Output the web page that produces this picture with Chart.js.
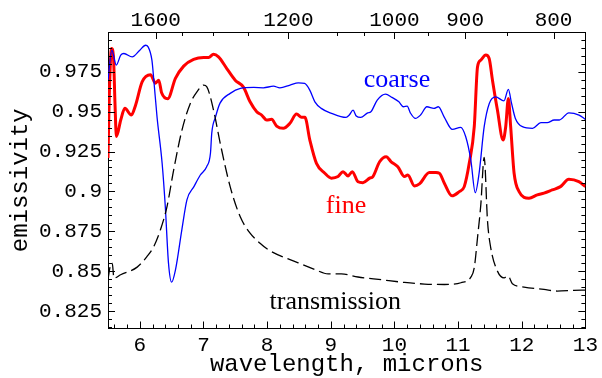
<!DOCTYPE html>
<html>
<head>
<meta charset="utf-8">
<script src="https://cdn.jsdelivr.net/npm/chart.js@4.4.0/dist/chart.umd.min.js"></script>
<style>
  html, body { margin: 0; padding: 0; background: #fff; }
  #wrap { width: 602px; height: 378px; position: relative; }
</style>
</head>
<body>
<div id="wrap"><canvas id="grafico"></canvas></div>
<script>
// curva "coarse" (azul): longitud de onda en micrones y emisividad
const coarseWl = [5.50, 5.56, 5.63, 5.70, 5.75, 5.88, 6.00, 6.09, 6.13, 6.19, 6.22, 6.27, 6.35, 6.40, 6.45, 6.50, 6.56, 6.66, 6.74, 6.85, 6.95, 7.05, 7.11, 7.13, 7.19, 7.26, 7.42, 7.58, 7.79, 7.94, 8.10, 8.20, 8.36, 8.49, 8.59, 8.67, 8.75, 8.85, 9.01, 9.24, 9.29, 9.35, 9.40, 9.47, 9.58, 9.63, 9.73, 9.86, 9.96, 10.07, 10.14, 10.20, 10.25, 10.33, 10.41, 10.51, 10.62, 10.69, 10.78, 10.91, 11.04, 11.12, 11.20, 11.27, 11.33, 11.41, 11.49, 11.59, 11.72, 11.79, 11.84, 11.90, 12.01, 12.17, 12.30, 12.40, 12.51, 12.59, 12.74, 12.90, 13.00];
const coarseEm = [0.970, 0.9886, 0.9792, 0.9855, 0.9865, 0.9844, 0.9886, 0.9917, 0.9907, 0.9823, 0.9698, 0.9468, 0.9178, 0.8905, 0.8552, 0.8431, 0.8508, 0.8759, 0.8947, 0.9030, 0.9103, 0.9155, 0.9241, 0.9366, 0.9468, 0.9554, 0.9615, 0.9646, 0.9652, 0.9650, 0.9660, 0.9650, 0.9667, 0.9681, 0.9677, 0.9635, 0.9562, 0.9521, 0.9490, 0.9464, 0.9479, 0.9510, 0.9473, 0.9464, 0.9493, 0.9500, 0.9573, 0.9610, 0.9590, 0.9562, 0.9531, 0.9535, 0.9493, 0.9458, 0.9479, 0.9531, 0.9521, 0.9531, 0.9468, 0.9389, 0.9402, 0.9343, 0.9197, 0.8992, 0.9114, 0.9406, 0.9552, 0.9593, 0.9568, 0.9640, 0.9552, 0.9458, 0.9406, 0.9396, 0.9431, 0.9431, 0.9448, 0.9448, 0.9493, 0.9479, 0.9452];

// curva "fine" (roja)
const fineWl = [5.50, 5.52, 5.555, 5.585, 5.61, 5.632, 5.70, 5.765, 5.867, 5.933, 6.036, 6.167, 6.246, 6.297, 6.344, 6.438, 6.559, 6.689, 6.845, 7.002, 7.080, 7.158, 7.236, 7.366, 7.498, 7.628, 7.732, 7.836, 7.914, 7.992, 8.070, 8.149, 8.254, 8.358, 8.462, 8.540, 8.593, 8.671, 8.775, 8.906, 9.009, 9.114, 9.192, 9.271, 9.338, 9.427, 9.505, 9.610, 9.662, 9.767, 9.870, 9.948, 10.053, 10.158, 10.210, 10.315, 10.393, 10.549, 10.653, 10.706, 10.784, 10.903, 11.019, 11.097, 11.175, 11.254, 11.305, 11.357, 11.435, 11.488, 11.540, 11.618, 11.707, 11.748, 11.790, 11.826, 11.880, 11.958, 12.114, 12.244, 12.349, 12.479, 12.609, 12.740, 12.897, 13.00];
const fineEm = [0.921, 0.960, 0.9897, 0.985, 0.955, 0.9344, 0.9448, 0.9521, 0.9479, 0.9541, 0.9687, 0.9732, 0.9679, 0.9698, 0.9617, 0.9581, 0.9709, 0.9786, 0.9828, 0.9840, 0.9840, 0.9861, 0.9844, 0.9771, 0.9698, 0.9654, 0.9562, 0.9500, 0.9479, 0.9448, 0.9452, 0.9410, 0.9396, 0.9427, 0.9485, 0.9465, 0.9465, 0.9322, 0.9176, 0.9114, 0.9083, 0.9093, 0.9124, 0.9097, 0.9124, 0.9061, 0.9055, 0.9083, 0.9093, 0.9186, 0.9218, 0.9186, 0.9155, 0.9093, 0.9103, 0.9034, 0.9047, 0.9118, 0.9118, 0.9114, 0.9051, 0.8972, 0.8999, 0.9030, 0.9176, 0.9406, 0.9781, 0.9823, 0.9855, 0.9834, 0.9698, 0.9510, 0.9322, 0.9406, 0.9583, 0.9406, 0.9114, 0.8999, 0.8957, 0.8978, 0.8989, 0.9009, 0.9030, 0.9076, 0.9061, 0.9030];

// curva "transmission" (negra, punteada)
const transWl = [5.50, 5.541, 5.567, 5.593, 5.698, 5.958, 6.114, 6.219, 6.324, 6.427, 6.532, 6.662, 6.793, 6.897, 7.002, 7.053, 7.158, 7.263, 7.419, 7.576, 7.732, 7.889, 8.019, 8.488, 8.750, 8.958, 9.166, 9.427, 9.792, 10.158, 10.471, 10.784, 11.044, 11.200, 11.254, 11.305, 11.357, 11.410, 11.462, 11.513, 11.618, 11.723, 11.786, 11.853, 12.036, 12.349, 12.557, 12.818, 13.00];
const transEm = [0.845, 0.8540, 0.8550, 0.8456, 0.8477, 0.8525, 0.8592, 0.8654, 0.8759, 0.8905, 0.9135, 0.9385, 0.9552, 0.9625, 0.9667, 0.9656, 0.9510, 0.9302, 0.9030, 0.8842, 0.8738, 0.8675, 0.8634, 0.8552, 0.8510, 0.8483, 0.8483, 0.8463, 0.8446, 0.8429, 0.8419, 0.8416, 0.8427, 0.8462, 0.8521, 0.8709, 0.8917, 0.9214, 0.8815, 0.8646, 0.8500, 0.8458, 0.8469, 0.8421, 0.8400, 0.8385, 0.8375, 0.8379, 0.8381];

// marcas de los ejes
const xTicks = [6, 7, 8, 9, 10, 11, 12, 13];
const yTicks = [0.825, 0.85, 0.875, 0.9, 0.925, 0.95, 0.975];
const topMajor = [1600, 1200, 1000, 900, 800];   // numero de onda, cm^-1
const topMinor = [1500, 1400, 1300, 1100, 1050, 950, 850];

const puntos = (xs, ys) => xs.map((x, i) => ({ x: x, y: ys[i] }));

// etiquetas dentro del grafico
const etiquetas = [
  { texto: 'coarse', x: 10.04, y: 0.9657, color: '#0000ff' },
  { texto: 'fine', x: 9.24, y: 0.8865, color: '#ff0000' },
  { texto: 'transmission', x: 9.07, y: 0.826, color: '#000000' },
];

const fuenteTicks = { family: "'Liberation Mono', 'Courier New', monospace", size: 21 };
const fuenteTitulo = { family: "'Liberation Mono', 'Courier New', monospace", size: 24 };

// dibuja las marcas hacia adentro del marco y los textos
const marcas = {
  id: 'marcas',
  afterDraw(chart) {
    const { ctx, chartArea: a, scales } = chart;
    ctx.save();
    ctx.strokeStyle = '#000';
    ctx.lineWidth = 1;
    const linea = (x1, y1, x2, y2) => {
      ctx.beginPath(); ctx.moveTo(x1, y1); ctx.lineTo(x2, y2); ctx.stroke();
    };
    // eje inferior: mayores cada 1, menores cada 0.2
    for (let k = 28; k <= 65; k++) {
      const v = k * 0.2;
      const px = Math.round(scales.x.getPixelForValue(v)) + 0.5;
      const mayor = k % 5 === 0;
      linea(px, a.bottom, px, a.bottom - (mayor ? 7 : 4));
    }
    // eje superior: numero de onda
    topMajor.concat(topMinor).forEach((w) => {
      const px = Math.round(scales.x.getPixelForValue(10000 / w)) + 0.5;
      const mayor = topMajor.includes(w);
      linea(px, a.top, px, a.top + (mayor ? 7 : 4));
    });
    // ejes izquierdo y derecho: mayores cada 0.025, menores cada 0.005
    for (let k = 163; k <= 199; k++) {
      const v = k * 0.005;
      const py = Math.round(scales.y.getPixelForValue(v)) + 0.5;
      const mayor = k % 5 === 0;
      const l = mayor ? 7 : 4;
      linea(a.left, py, a.left + l, py);
      linea(a.right, py, a.right - l, py);
    }
    // textos de las curvas
    ctx.font = "26px 'Liberation Serif', 'Times New Roman', serif";
    ctx.textAlign = 'center';
    ctx.textBaseline = 'alphabetic';
    etiquetas.forEach((e) => {
      ctx.fillStyle = e.color;
      ctx.fillText(e.texto, scales.x.getPixelForValue(e.x), scales.y.getPixelForValue(e.y));
    });
    ctx.restore();
  }
};

new Chart(document.getElementById('grafico'), {
  type: 'line',
  data: {
    datasets: [
      {
        label: 'transmission',
        data: puntos(transWl, transEm),
        borderColor: '#000000',
        borderWidth: 1.3,
        borderDash: [12, 5],
      },
      {
        label: 'coarse',
        data: puntos(coarseWl, coarseEm),
        borderColor: '#0000ff',
        borderWidth: 1.3,
      },
      {
        label: 'fine',
        data: puntos(fineWl, fineEm),
        borderColor: '#ff0000',
        borderWidth: 3,
      },
    ],
  },
  options: {
    responsive: true,
    maintainAspectRatio: false,
    animation: false,
    layout: { padding: 0 },
    elements: {
      point: { radius: 0 },
      line: { cubicInterpolationMode: 'monotone', fill: false },
    },
    plugins: {
      legend: { display: false },
      tooltip: { enabled: false },
    },
    scales: {
      x: {
        type: 'linear',
        position: 'bottom',
        min: 5.5,
        max: 13,
        afterBuildTicks: (s) => { s.ticks = xTicks.map((v) => ({ value: v })); },
        afterFit: (s) => { s.height = 49.5; },
        grid: { display: false, drawTicks: false, tickLength: 0 },
        border: { display: true, color: '#000', width: 1 },
        ticks: { color: '#000', font: fuenteTicks, padding: 4, maxRotation: 0, autoSkip: false },
        title: { display: true, text: 'wavelength, microns', color: '#000', font: fuenteTitulo, padding: { top: 0, bottom: -1 } },
      },
      x2: {
        type: 'linear',
        position: 'top',
        min: 5.5,
        max: 13,
        afterBuildTicks: (s) => {
          s.ticks = topMajor.concat(topMinor).map((w) => ({ value: 10000 / w })).sort((p, q) => p.value - q.value);
        },
        afterFit: (s) => { s.height = 32; },
        grid: { display: false, drawTicks: false, tickLength: 0 },
        border: { display: true, color: '#000', width: 1 },
        ticks: {
          color: '#000', font: fuenteTicks, padding: -1, maxRotation: 0, autoSkip: false,
          callback: (v) => {
            const w = Math.round(10000 / v);
            return topMajor.includes(w) ? String(w) : '';
          },
        },
      },
      y: {
        type: 'linear',
        position: 'left',
        min: 0.814,
        max: 1.0,
        afterBuildTicks: (s) => { s.ticks = yTicks.map((v) => ({ value: v })); },
        afterFit: (s) => { s.width = 108; },
        grid: { display: false, drawTicks: false, tickLength: 0 },
        border: { display: true, color: '#000', width: 1 },
        ticks: {
          color: '#000', font: fuenteTicks, padding: 6, autoSkip: false,
          callback: (v) => String(Number(v.toFixed(3))),
        },
        title: { display: true, text: 'emissivity', color: '#000', font: fuenteTitulo, padding: { top: 6, bottom: 0 } },
      },
      y2: {
        type: 'linear',
        position: 'right',
        min: 0.814,
        max: 1.0,
        afterFit: (s) => { s.width = 14; },
        grid: { display: false, drawTicks: false, tickLength: 0 },
        border: { display: true, color: '#000', width: 1 },
        ticks: { display: false },
      },
    },
  },
  plugins: [marcas],
});
</script>
</body>
</html>
